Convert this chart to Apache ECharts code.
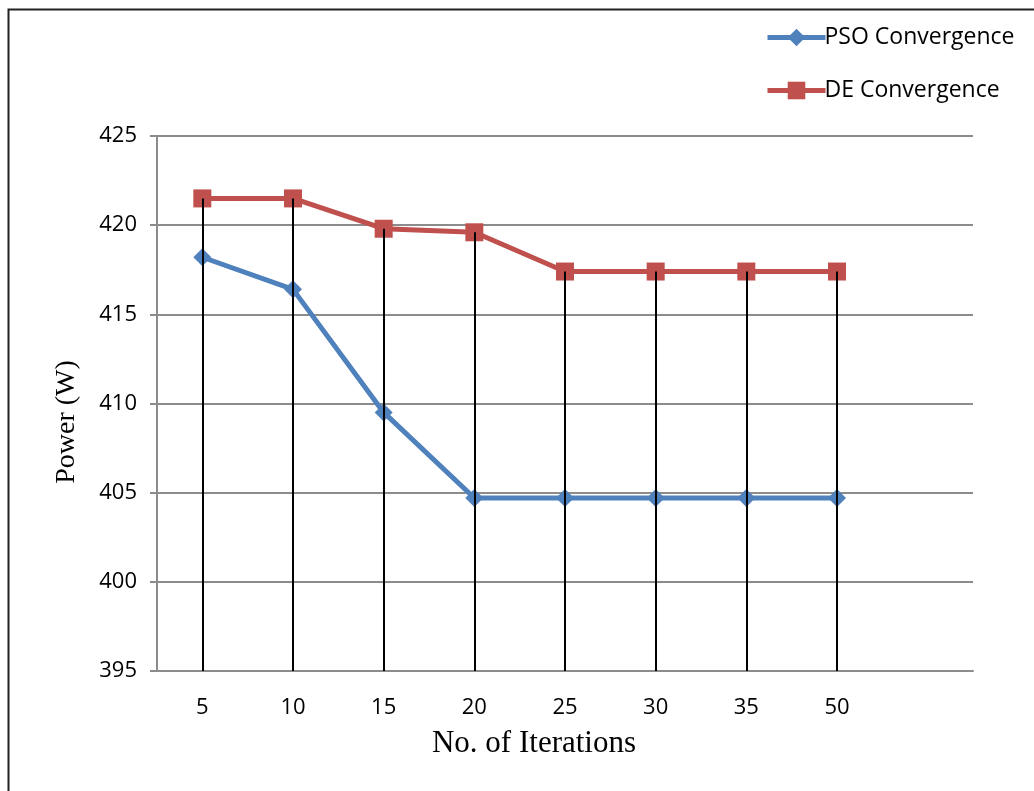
<!DOCTYPE html>
<html>
<head>
<meta charset="utf-8">
<script src="https://cdn.jsdelivr.net/npm/echarts@6/dist/echarts.min.js"></script>
<style>html,body{margin:0;padding:0;background:#fff}#c{width:1034px;height:791px}</style>
</head>
<body>
<div id="c"></div>
<script>
const categories = ['5', '10', '15', '20', '25', '30', '35', '50', ''];
const psoValues = [418.2, 416.4, 409.5, 404.7, 404.7, 404.7, 404.7, 404.7];
const deValues = [421.5, 421.5, 419.8, 419.6, 417.4, 417.4, 417.4, 417.4];
const yTicks = { min: 395, max: 425, interval: 5 };
const xTitle = 'No. of Iterations';
const yTitle = 'Power (W)';

const chart = echarts.init(document.getElementById('c'));
const dropLines = deValues.map((v, i) => {
  const top = Math.max(v, psoValues[i]);
  return [{ coord: [i, top] }, { coord: [i, yTicks.min] }];
});
const gridColor = '#8c8c8c';
chart.setOption({
  animation: false,
  graphic: [
    {
      type: 'rect', left: 6, top: 7, shape: { width: 1060, height: 820 },
      style: { fill: 'none', stroke: '#222', lineWidth: 2 }, silent: true, z: 0
    },
    {
      type: 'text', x: 534, y: 744,
      style: { text: xTitle, font: '31px "Liberation Serif"', fill: '#000', align: 'center', verticalAlign: 'middle' }
    },
    {
      type: 'text', x: 67, y: 422, rotation: Math.PI / 2,
      style: { text: yTitle, font: '28px "Liberation Serif"', fill: '#000', align: 'center', verticalAlign: 'middle' }
    }
  ],
  grid: { left: 157, right: 61, top: 136, bottom: 120 },
  legend: {
    orient: 'vertical', left: 760, top: 21, itemWidth: 58, itemHeight: 22, itemGap: 30,
    data: ['PSO Convergence', 'DE Convergence'],
    lineStyle: { width: 5 },
    textStyle: { fontFamily: 'Open Sans', fontSize: 23, color: '#000', padding: [0, 0, 0, -6] }
  },
  xAxis: {
    type: 'category', data: categories, boundaryGap: true,
    axisLine: { lineStyle: { color: gridColor, width: 2 } },
    axisTick: { show: false },
    axisLabel: { fontFamily: 'Open Sans', fontSize: 22, color: '#000', margin: 26 }
  },
  yAxis: {
    type: 'value', min: yTicks.min, max: yTicks.max, interval: yTicks.interval,
    axisLine: { show: true, lineStyle: { color: gridColor, width: 2 } },
    axisTick: { show: true, length: 7, lineStyle: { color: gridColor, width: 2 } },
    splitLine: { lineStyle: { color: gridColor, width: 2 } },
    axisLabel: { fontFamily: 'Open Sans', fontSize: 22, color: '#000', margin: 20 }
  },
  series: [
    {
      name: 'PSO Convergence', type: 'line', data: psoValues,
      symbol: 'diamond', symbolSize: 18, lineStyle: { color: '#4F81BD', width: 5 },
      itemStyle: { color: '#4F81BD' }, z: 3
    },
    {
      name: 'DE Convergence', type: 'line', data: deValues,
      symbol: 'rect', symbolSize: 18, lineStyle: { color: '#C0504D', width: 5 },
      itemStyle: { color: '#C0504D' }, z: 3
    },
    {
      name: 'drop', type: 'line', data: [], z: 10,
      markLine: {
        silent: true, symbol: 'none', animation: false,
        label: { show: false },
        lineStyle: { color: '#000', width: 2, type: 'solid' },
        data: dropLines
      }
    }
  ]
});
</script>
</body>
</html>
